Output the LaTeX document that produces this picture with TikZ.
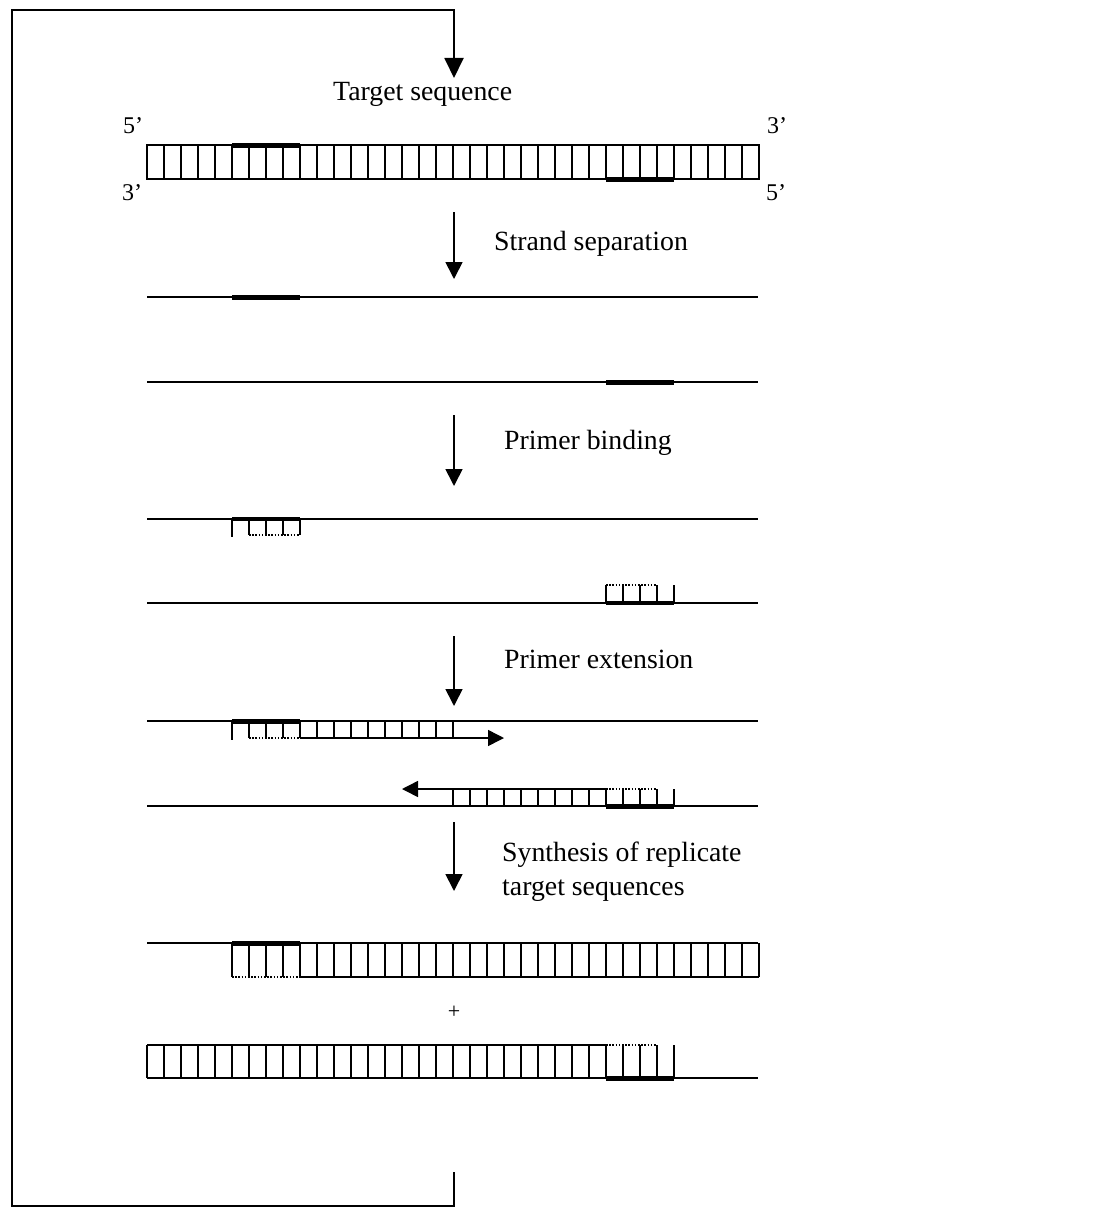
\documentclass[tikz,border=0pt]{standalone}
\usepackage{fontspec}
\setmainfont{Liberation Serif}
\usetikzlibrary{arrows.meta}
\begin{document}
\begin{tikzpicture}[x=1pt,y=-1pt,
  thin/.style={line width=1.5pt},
  bar/.style={line width=5pt},
  midbar/.style={line width=3.4pt},
  dotline/.style={line width=1.4pt, dash pattern=on 1.6pt off 1.6pt},
  flow/.style={line width=1.7pt,-{Triangle[length=17pt,width=17pt]}},
  ext/.style={line width=1.5pt,-{Triangle[length=16pt,width=16pt]}},
  lbl/.style={font=\fontsize{27.8}{30}\selectfont, inner sep=0pt},
  endlbl/.style={font=\fontsize{24}{26}\selectfont, inner sep=0pt}]
\useasboundingbox (0,0) rectangle (1096,1207);
\fill[white] (0,0) rectangle (1096,1207);

% ---- recycling loop ----
\coordinate (loopstart) at (454,1172);
\coordinate (loopend) at (454,78);
\draw[line width=1.9pt,-{Triangle[length=20pt,width=19pt]}]
  (loopstart) -- (454,1206) -- (12,1206) -- (12,10) -- (454,10) -- (loopend);

\node[lbl, anchor=base west] (t0) at (333,100) {Target sequence};

% ---- target double strand ----
\node[endlbl] (l5a) at (133,126) {5’};
\node[endlbl] (r3a) at (777,126) {3’};
\node[endlbl] (l3a) at (132,193) {3’};
\node[endlbl] (r5a) at (776,193) {5’};
\draw[thin] (147,145) rectangle (759,179);
\foreach \k in {1,...,35} \draw[thin] (147+17*\k,145) -- ++(0,34);
\draw[bar] (232,145) -- (300,145);
\draw[bar] (606,179) -- (674,179);

% ---- strand separation ----
\coordinate (a1s) at (454,212); \coordinate (a1e) at (454,279);
\draw[flow] (a1s) -- (a1e);
\node[lbl, anchor=base west] (t1) at (494,250) {Strand separation};
\draw[thin] (147,297) -- (758,297);
\draw[bar] (232,297) -- (300,297);
\draw[thin] (147,382) -- (758,382);
\draw[bar] (606,382) -- (674,382);

% ---- primer binding ----
\coordinate (a2s) at (454,415); \coordinate (a2e) at (454,486);
\draw[flow] (a2s) -- (a2e);
\node[lbl, anchor=base west] (t2) at (504,449) {Primer binding};
\draw[thin] (147,519) -- (758,519);
\draw[midbar] (232,519) -- (300,519);
\draw[thin] (232,519) -- (232,537);
\foreach \k in {1,...,4} \draw[thin] (232+17*\k,519) -- ++(0,16);
\draw[dotline] (249,535) -- (300,535);
\draw[thin] (147,603) -- (758,603);
\draw[midbar] (606,603) -- (674,603);
\foreach \k in {0,...,4} \draw[thin] (606+17*\k,603) -- ++(0,-18);
\draw[dotline] (606,585) -- (657,585);

% ---- primer extension ----
\coordinate (a3s) at (454,636); \coordinate (a3e) at (454,706);
\draw[flow] (a3s) -- (a3e);
\node[lbl, anchor=base west] (t3) at (504,668) {Primer extension};
\draw[thin] (147,721) -- (758,721);
\draw[bar] (232,721) -- (300,721);
\draw[thin] (232,721) -- (232,740);
\foreach \k in {1,...,13} \draw[thin] (232+17*\k,721) -- ++(0,17);
\draw[dotline] (249,738) -- (300,738);
\coordinate (e1s) at (300,738); \coordinate (e1e) at (504,738);
\draw[ext] (e1s) -- (e1e);
\draw[thin] (147,806) -- (758,806);
\draw[bar] (606,806) -- (674,806);
\foreach \k in {0,...,13} \draw[thin] (453+17*\k,806) -- ++(0,-17);
\draw[dotline] (606,789) -- (657,789);
\coordinate (e2s) at (607,789); \coordinate (e2e) at (402,789);
\draw[ext] (e2s) -- (e2e);

% ---- synthesis ----
\coordinate (a4s) at (454,822); \coordinate (a4e) at (454,891);
\draw[flow] (a4s) -- (a4e);
\node[lbl, anchor=base west] (t4) at (502,861) {Synthesis of replicate};
\node[lbl, anchor=base west] (t5) at (502,895) {target sequences};

\draw[thin] (147,943) -- (758,943);
\draw[bar] (232,943) -- (300,943);
\foreach \k in {0,...,31} \draw[thin] (232+17*\k,943) -- ++(0,34);
\draw[dotline] (232,977) -- (300,977);
\draw[thin] (300,977) -- (759,977);

\node[font=\fontsize{22}{24}\selectfont, inner sep=0pt] (plus) at (454,1012) {+};

\draw[thin] (147,1045) -- (606,1045);
\draw[dotline] (606,1045) -- (657,1045);
\foreach \k in {0,...,31} \draw[thin] (147+17*\k,1045) -- ++(0,33);
\draw[thin] (147,1078) -- (758,1078);
\draw[bar] (606,1078) -- (674,1078);
\end{tikzpicture}
\end{document}
